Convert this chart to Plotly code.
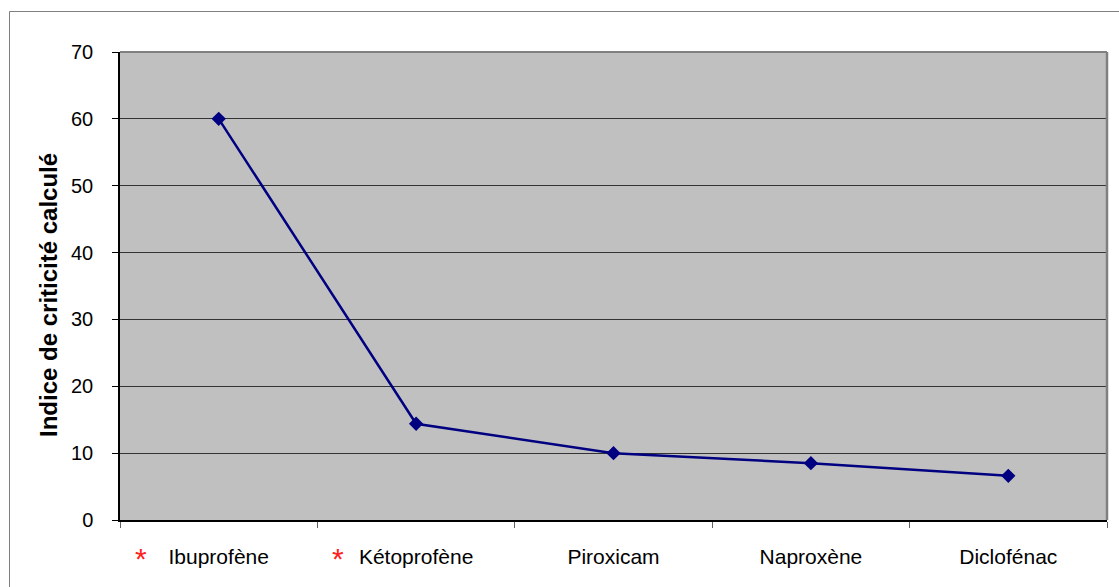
import plotly.graph_objects as go

# Molécules et indice de criticité calculé
medicaments = ["Ibuprofène", "Kétoprofène", "Piroxicam", "Naproxène", "Diclofénac"]
indice = [60, 14.4, 10, 8.5, 6.6]
marques = ["Ibuprofène", "Kétoprofène"]  # molécules signalées par un astérisque rouge
y_ticks = [0, 10, 20, 30, 40, 50, 60, 70]
titre_y = "Indice de criticité calculé"

W, H = 1119, 587
L, R, T, B = 120, 12, 52, 67
pw, ph = W - L - R, H - T - B
FONT = "Liberation Sans, Arial, sans-serif"

fig = go.Figure()
fig.add_trace(go.Scatter(
    x=medicaments, y=indice, mode="lines+markers",
    line=dict(color="#000080", width=2.5),
    marker=dict(symbol="diamond", size=11, color="#000080"),
    showlegend=False, cliponaxis=False,
))

# astérisques rouges devant certaines étiquettes
for m in marques:
    fig.add_annotation(x=m, y=0, xref="x", yref="y", text="*", showarrow=False,
                       xshift=-78, yshift=-38,
                       font=dict(color="#ff2020", size=30, family=FONT))

# titre de l'axe vertical
fig.add_annotation(x=(48 - L) / pw, y=(ph + T - 295) / ph, xref="paper", yref="paper",
                   xanchor="center", yanchor="middle",
                   text="<b>" + titre_y + "</b>", textangle=-90, showarrow=False,
                   font=dict(size=24, family=FONT, color="black"))

# cadre gris de la zone de tracé (haut et droite)
fig.add_shape(type="line", xref="paper", yref="paper", x0=0, x1=1, y0=1, y1=1,
              line=dict(color="#808080", width=2))
fig.add_shape(type="line", xref="paper", yref="paper", x0=1, x1=1, y0=0, y1=1,
              line=dict(color="#808080", width=2.5))
# cadre extérieur
fig.add_shape(type="rect", xref="paper", yref="paper",
              x0=(9.5 - L) / pw, x1=(W + 5 - L) / pw,
              y0=-(B + 10) / ph, y1=(ph + T - 11.5) / ph,
              line=dict(color="#808080", width=1), layer="below")

fig.update_layout(
    width=W, height=H,
    margin=dict(l=L, r=R, t=T, b=B),
    paper_bgcolor="white", plot_bgcolor="#c0c0c0",
    font=dict(family=FONT, size=20, color="black"),
    xaxis=dict(type="category", range=[-0.5, 4.5], tickson="boundaries",
               ticks="outside", ticklen=6, tickcolor="#606060",
               tickfont=dict(size=21),
               showline=True, linecolor="black", linewidth=2,
               showgrid=False, ticklabelstandoff=17, fixedrange=True),
    yaxis=dict(range=[0, 70], tickvals=y_ticks, ticks="outside", ticklen=6,
               tickcolor="black", showline=True, linecolor="black", linewidth=1.5,
               showgrid=True, gridcolor="#333333", gridwidth=1,
               zeroline=False, ticklabelstandoff=15, fixedrange=True),
)

fig.write_html("out.html")
